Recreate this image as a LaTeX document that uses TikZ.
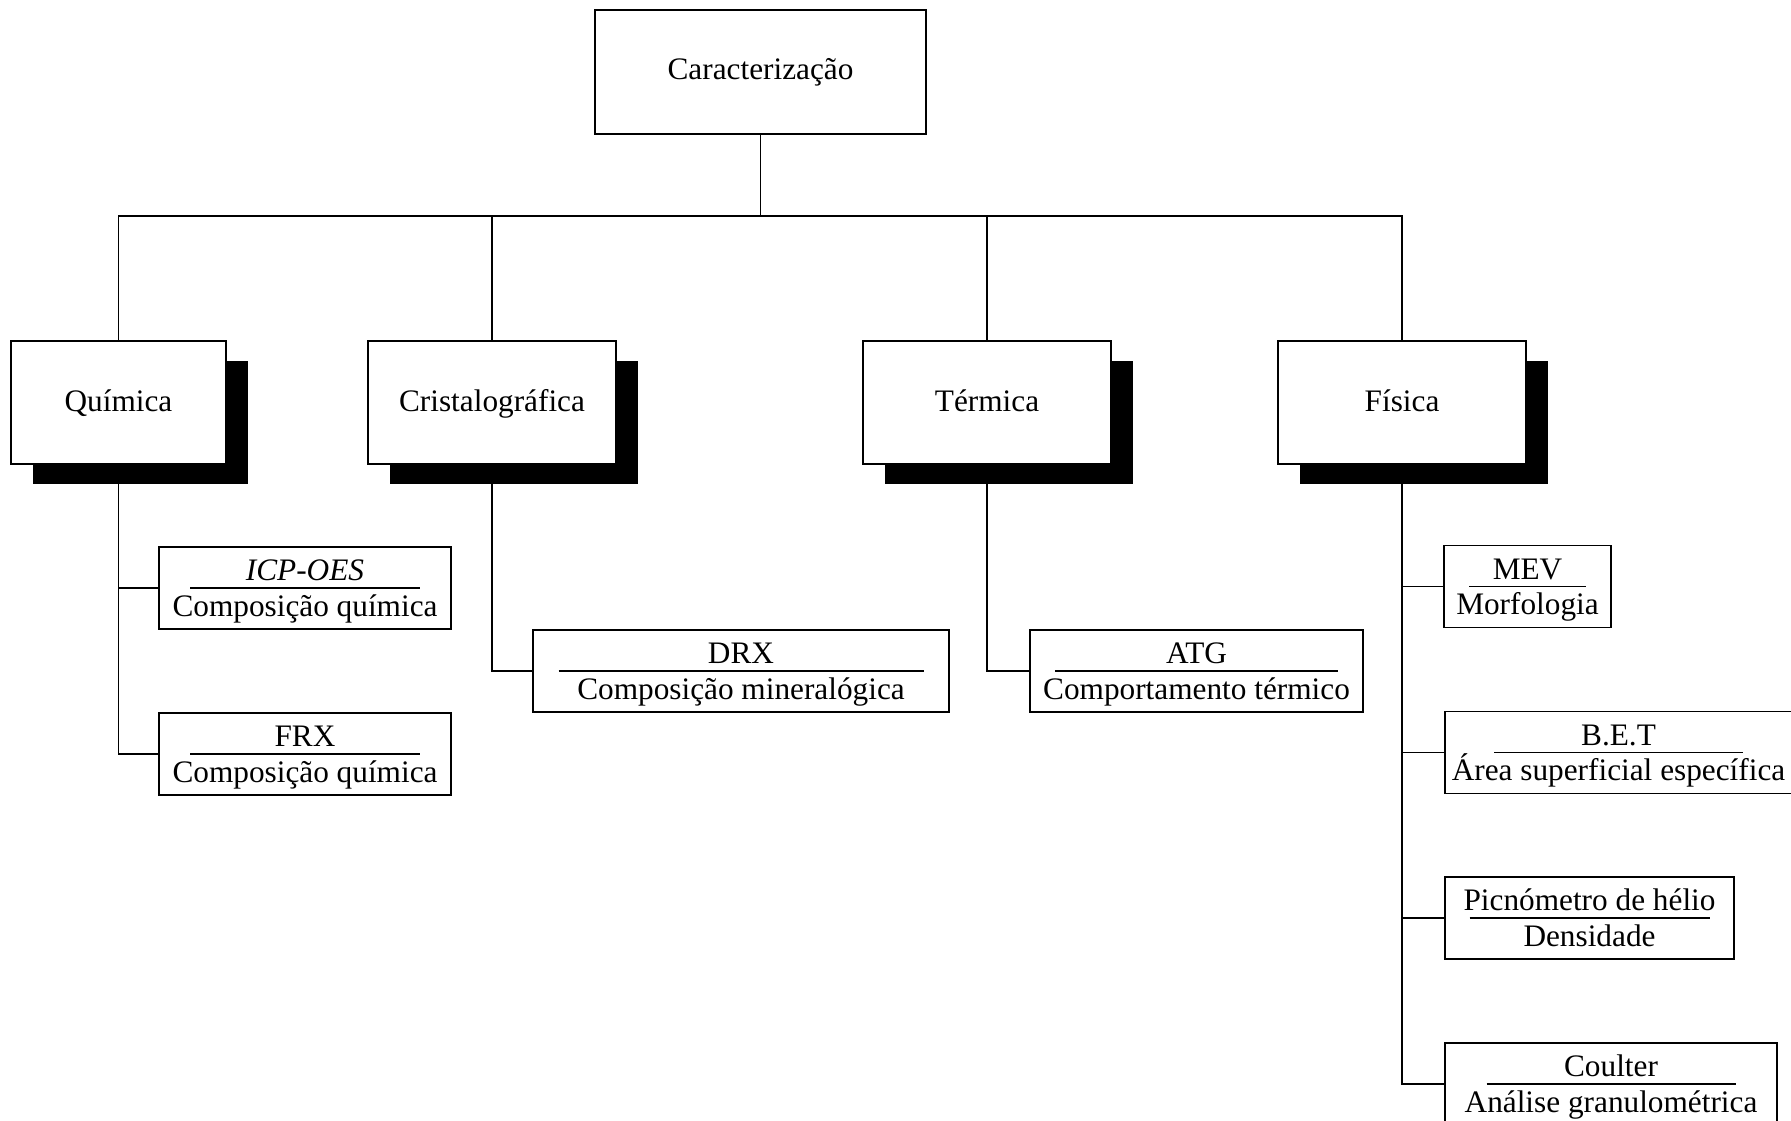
\documentclass[tikz,border=0pt]{standalone}
\usepackage{fontspec}
\setmainfont{Liberation Serif}
\usetikzlibrary{shadows}

% duas linhas de uma tecnica: nome / propriedade
\newcommand{\ensaio}[2]{\rule{0pt}{8.2pt}#1\\#2\rule[-2.2pt]{0pt}{0pt}}

\begin{document}
\begin{tikzpicture}[
  font=\fontsize{8.9pt}{10.2pt}\selectfont, line width=0.55pt,
  raiz/.style={draw, fill=white, inner sep=0pt,
               minimum width=3.31cm, minimum height=1.24cm},
  grupo/.style={draw, fill=white, inner sep=0pt, minimum height=1.23cm,
                text height=0.72em, text depth=0.22em,
                drop shadow={shadow xshift=0.22cm, shadow yshift=-0.2cm,
                             fill=black, opacity=1}},
  tecnica/.style={draw, fill=white, align=center, inner sep=0pt,
                  minimum height=0.82cm},
  regra/.style={path picture={\draw[line width=0.55pt]
                (path picture bounding box.center) ++(-#1/2,0) -- ++(#1,0);}},
]
\useasboundingbox (0,0) rectangle (17.91,-11.21);
\clip (0,0) rectangle (17.91,-11.21);

% topo
\node[raiz] (raiz) at (7.605,-0.72) {Caracterização};
\coordinate (barra) at (7.605,-2.16);

% tipos de caracterizacao
\node[grupo, minimum width=2.15cm] (qui) at (1.185,-4.025) {Química};
\node[grupo, minimum width=2.48cm] (cri) at (4.92,-4.025)  {Cristalográfica};
\node[grupo, minimum width=2.48cm] (ter) at (9.87,-4.025)  {Térmica};
\node[grupo, minimum width=2.48cm] (fis) at (14.02,-4.025) {Física};

% tecnicas
\node[tecnica, regra=2.30, minimum width=2.92cm] (icp) at (3.05,-5.88)
  {\ensaio{\textit{ICP-OES}}{Composição química}};
\node[tecnica, regra=2.30, minimum width=2.92cm] (frx) at (3.05,-7.54)
  {\ensaio{FRX}{Composição química}};
\node[tecnica, regra=3.65, minimum width=4.16cm] (drx) at (7.41,-6.71)
  {\ensaio{DRX}{Composição mineralógica}};
\node[tecnica, regra=2.83, minimum width=3.33cm] (atg) at (11.965,-6.71)
  {\ensaio{ATG}{Comportamento térmico}};
\node[tecnica, regra=1.17, minimum width=1.67cm] (mev) at (15.275,-5.865)
  {\ensaio{MEV}{Morfologia}};
\node[tecnica, regra=2.49, minimum width=3.47cm] (bet) at (16.185,-7.525)
  {\ensaio{B.E.T}{Área superficial específica}};
\node[tecnica, regra=2.40, minimum width=2.89cm] (pic) at (15.895,-9.18)
  {\ensaio{Picnómetro de hélio}{Densidade}};
\node[tecnica, regra=2.49, minimum width=3.32cm] (cou) at (16.11,-10.84)
  {\ensaio{Coulter}{Análise granulométrica}};

% ligacoes
\draw (raiz.south) -- (barra);
\draw (qui.north) |- (barra) -| (fis.north);
\foreach \g in {cri,ter}
  \draw (\g.north) -- (\g.north |- barra);
\foreach \g/\t in {qui/icp, qui/frx, cri/drx, ter/atg,
                   fis/mev, fis/bet, fis/pic, fis/cou}
  \draw (\g.south) |- (\t.west);
\end{tikzpicture}
\end{document}
